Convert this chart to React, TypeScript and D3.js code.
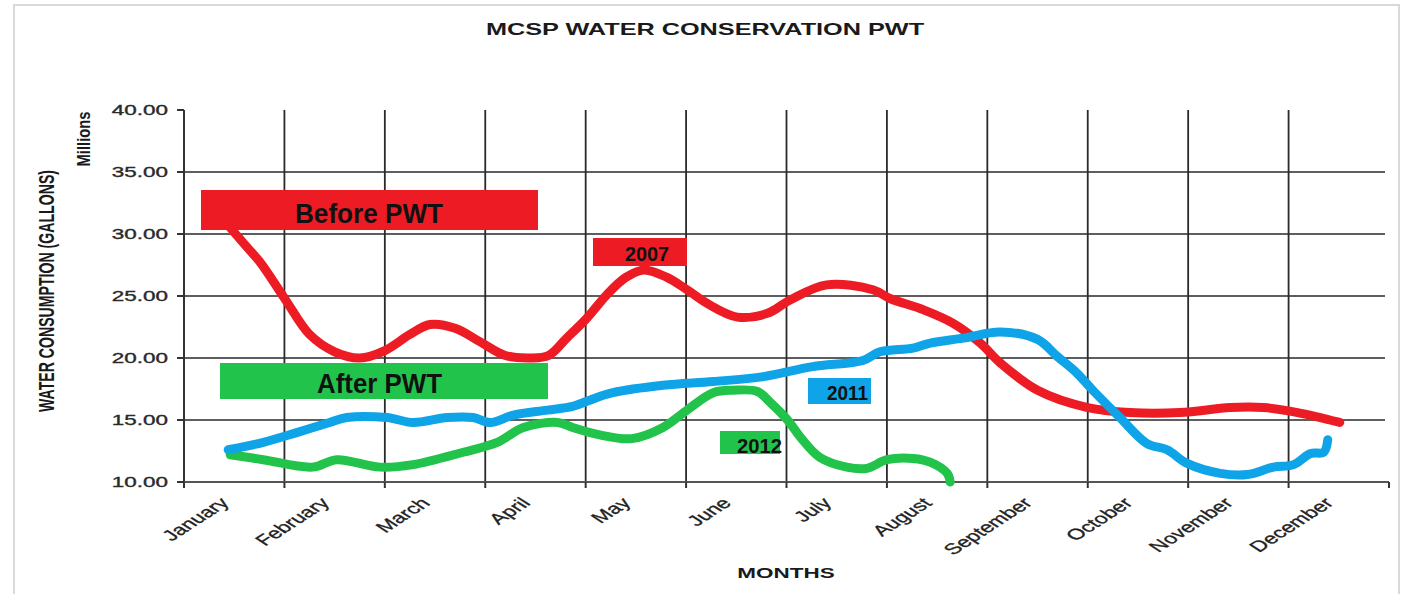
import React from "react";
import * as d3 from "d3";

const months = ["January","February","March","April","May","June","July","August","September","October","November","December"];
const yTicks = [10, 15, 20, 25, 30, 35, 40];

// positions in months from start of January (0..12), values in millions of gallons
const pos2007 = [0.44,0.61,0.76,1.01,1.25,1.5,1.75,2.0,2.25,2.45,2.7,2.95,3.2,3.45,3.63,3.81,4.01,4.21,4.4,4.58,4.81,5.01,5.21,5.51,5.81,6.04,6.4,6.86,7.03,7.36,7.66,7.93,8.13,8.5,9.0,9.42,9.92,10.42,10.75,11.09,11.51];
const val2007 = [30.7,29.1,27.7,24.7,21.9,20.5,20.0,20.6,21.9,22.7,22.4,21.3,20.2,20.0,20.2,21.6,23.2,25.1,26.5,27.1,26.5,25.5,24.4,23.3,23.6,24.7,25.9,25.5,24.8,23.9,22.8,21.2,19.6,17.4,16.0,15.6,15.6,16.0,16.0,15.6,14.8];

const pos2011 = [0.44,0.79,1.13,1.45,1.62,2.02,2.28,2.62,2.88,3.05,3.28,3.62,3.87,4.04,4.27,4.77,5.27,5.77,6.26,6.76,6.93,7.26,7.43,7.76,8.13,8.5,8.7,8.89,9.05,9.32,9.59,9.79,9.99,10.32,10.59,10.85,11.05,11.22,11.35,11.39];
const val2011 = [12.6,13.2,14.0,14.8,15.2,15.2,14.8,15.2,15.2,14.8,15.4,15.8,16.1,16.6,17.2,17.8,18.1,18.5,19.3,19.8,20.5,20.8,21.2,21.6,22.1,21.5,20.1,18.8,17.4,15.2,13.1,12.6,11.5,10.7,10.6,11.2,11.4,12.3,12.4,13.4];

const pos2012 = [0.46,0.79,1.28,1.52,1.95,2.28,2.78,3.12,3.38,3.72,3.87,4.14,4.46,4.77,5.01,5.27,5.47,5.71,5.84,6.01,6.14,6.33,6.6,6.8,7.0,7.26,7.43,7.6,7.63];
const val2012 = [12.2,11.8,11.2,11.8,11.2,11.4,12.4,13.2,14.4,14.8,14.4,13.8,13.5,14.4,15.8,17.2,17.4,17.3,16.4,15.0,13.6,12.0,11.2,11.1,11.8,11.9,11.6,10.7,10.0];

const RED = "#ED1C24";
const BLUE = "#0FA3E8";
const GREEN = "#22C34B";

export default function App() {
  const W = 1407, H = 594;
  const x = d3.scaleLinear().domain([0, 12]).range([184, 1389]);
  const y = d3.scaleLinear().domain([10, 40]).range([482, 110]);
  const line = d3.line<[number, number]>().x(d => x(d[0])).y(d => y(d[1])).curve(d3.curveCatmullRom.alpha(0.5));
  const mk = (p: number[], v: number[]) => p.map((pp, i) => [pp, v[i]] as [number, number]);
  const SX = 1.55;
  const font = "'Liberation Sans', Arial, sans-serif";

  return (
    <svg width={W} height={H} style={{ position: "absolute", left: 0, top: 0, background: "#fff" }} fontFamily={font}>
      <rect x={0} y={0} width={W} height={H} fill="#fff" />
      <rect x={14} y={5} width={1385} height={620} fill="none" stroke="#d9d9d9" strokeWidth={2} />
      {/* title */}
      <text transform={`translate(705,35) scale(${SX},1)`} textAnchor="middle" fontSize={16.3} fontWeight="bold" fill="#1a1a1a">MCSP WATER CONSERVATION PWT</text>
      {/* horizontal gridlines */}
      {yTicks.filter(t => t > 10 && t < 40).map(t => (
        <line key={"h" + t} x1={184} x2={1385} y1={y(t)} y2={y(t)} stroke="#5e5e5e" strokeWidth={2} />
      ))}
      {/* vertical gridlines */}
      {d3.range(1, 12).map(i => (
        <line key={"v" + i} x1={x(i)} x2={x(i)} y1={110} y2={482} stroke="#2a2a2a" strokeWidth={1.8} />
      ))}
      {/* axes */}
      <line x1={184} x2={184} y1={110} y2={482} stroke="#333" strokeWidth={2} />
      <line x1={184} x2={1389} y1={482} y2={482} stroke="#555" strokeWidth={2} />
      {d3.range(0, 13).map(i => (
        <line key={"xt" + i} x1={x(i)} x2={x(i)} y1={482} y2={488} stroke="#333" strokeWidth={2} />
      ))}
      {yTicks.map(t => (
        <g key={"yt" + t}>
          <line x1={177} x2={184} y1={y(t)} y2={y(t)} stroke="#333" strokeWidth={2} />
          <text transform={`translate(168,${y(t)}) scale(${SX},1)`} textAnchor="end" dominantBaseline="central" fontSize={14.5} fill="#2a2a2a" stroke="#2a2a2a" strokeWidth={0.35}>{t.toFixed(2)}</text>
        </g>
      ))}
      {/* month labels */}
      {months.map((m, i) => (
        <text key={m} transform={`translate(${x(i + 0.5) - 4},${504}) scale(${SX},1) rotate(-45)`} textAnchor="end" fontSize={15} fill="#222" stroke="#222" strokeWidth={0.3}>{m}</text>
      ))}
      {/* axis titles */}
      <text transform={`translate(786,578) scale(${SX},1)`} textAnchor="middle" fontSize={14.5} fontWeight="bold" fill="#1a1a1a">MONTHS</text>
      <text transform={`translate(54,291) scale(${SX},1) rotate(-90)`} textAnchor="middle" fontSize={14} fontWeight="bold" fill="#1a1a1a" textLength={242} lengthAdjust="spacingAndGlyphs">WATER CONSUMPTION (GALLONS)</text>
      <text transform={`translate(90,139) scale(${SX},1) rotate(-90)`} textAnchor="middle" fontSize={11.5} fontWeight="bold" fill="#1a1a1a" textLength={55} lengthAdjust="spacingAndGlyphs">Millions</text>
      {/* series */}
      <path d={line(mk(pos2007, val2007)) || ""} fill="none" stroke={RED} strokeWidth={9} strokeLinecap="round" strokeLinejoin="round" />
      <path d={line(mk(pos2012, val2012)) || ""} fill="none" stroke={GREEN} strokeWidth={9} strokeLinecap="round" strokeLinejoin="round" />
      <path d={line(mk(pos2011, val2011)) || ""} fill="none" stroke={BLUE} strokeWidth={9} strokeLinecap="round" strokeLinejoin="round" />
      {/* annotations */}
      <rect x={201} y={190} width={337} height={40} fill={RED} />
      <text x={295} y={223} fontSize={28} fontWeight="bold" fill="#111" textLength={148} lengthAdjust="spacingAndGlyphs">Before PWT</text>
      <rect x={220} y={363} width={328} height={36} fill={GREEN} />
      <text x={317} y={393} fontSize={28} fontWeight="bold" fill="#111" textLength={125} lengthAdjust="spacingAndGlyphs">After PWT</text>
      <rect x={593} y={238} width={94} height={28} fill={RED} />
      <text x={625} y={261} fontSize={21} fontWeight="bold" fill="#111" textLength={44} lengthAdjust="spacingAndGlyphs">2007</text>
      <rect x={808} y={378} width={63} height={26} fill={BLUE} />
      <text x={827} y={400} fontSize={20} fontWeight="bold" fill="#111" textLength={41} lengthAdjust="spacingAndGlyphs">2011</text>
      <rect x={720} y={431} width={60} height={23} fill={GREEN} />
      <text x={737} y={453} fontSize={20} fontWeight="bold" fill="#111" textLength={45} lengthAdjust="spacingAndGlyphs">2012</text>
    </svg>
  );
}
